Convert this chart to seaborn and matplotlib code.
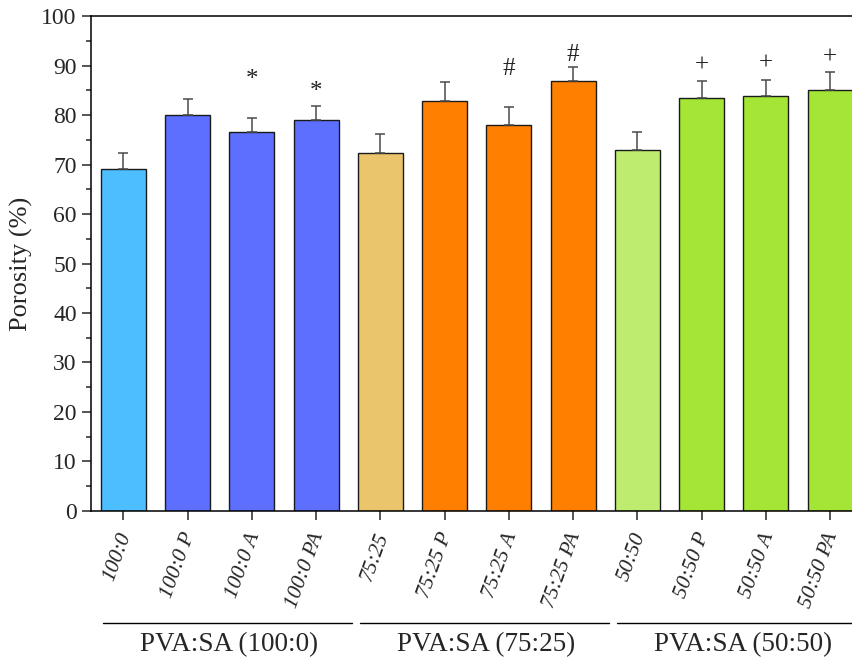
import numpy as np
import pandas as pd
import matplotlib
matplotlib.use("Agg")
import matplotlib.pyplot as plt
import matplotlib.transforms as mtransforms
from matplotlib.ticker import MultipleLocator
import seaborn as sns

# data
samples = ["100:0", "100:0 P", "100:0 A", "100:0 PA",
           "75:25", "75:25 P", "75:25 A", "75:25 PA",
           "50:50", "50:50 P", "50:50 A", "50:50 PA"]
porosity = [69.0, 80.0, 76.6, 79.0, 72.4, 82.8, 78.0, 86.9, 73.0, 83.5, 83.8, 85.1]
sd = [3.4, 3.3, 2.7, 2.9, 3.8, 3.8, 3.6, 2.7, 3.6, 3.3, 3.3, 3.5]
sig_marks = ["", "", "*", "*", "", "", "#", "#", "", "+", "+", "+"]
sig_y = [0, 0, 87.0, 84.6, 0, 0, 89.2, 92.1, 0, 90.0, 90.4, 91.6]
bar_colors = ["#4DBEFF", "#5D6FFF", "#5D6FFF", "#5D6FFF",
              "#EBC56C", "#FF8000", "#FF8000", "#FF8000",
              "#BEEC6F", "#A4E535", "#A4E535", "#A4E535"]
groups = ["PVA:SA (100:0)", "PVA:SA (75:25)", "PVA:SA (50:50)"]

df = pd.DataFrame({"sample": samples, "porosity": porosity, "sd": sd})

sns.set_style("ticks")
plt.rcParams["font.family"] = ["Liberation Serif", "DejaVu Serif"]
plt.rcParams["axes.linewidth"] = 1.1

fig = plt.figure(figsize=(8.53, 6.59), dpi=100)
ax = fig.add_axes([0.1063, 0.2246, 0.9054, 0.7511])

sns.barplot(data=df, x="sample", y="porosity", hue="sample", palette=bar_colors,
            legend=False, width=0.70, edgecolor="#1a1a1a", linewidth=1.0,
            saturation=1, ax=ax)

# upper error bars only
ax.errorbar(np.arange(len(samples)), df["porosity"],
            yerr=[np.zeros(len(sd)), df["sd"]], fmt="none",
            ecolor="#4a4a4a", elinewidth=1.1, capsize=3.3, capthick=1.1)

for i, (m, yy) in enumerate(zip(sig_marks, sig_y)):
    if m:
        ax.text(i, yy, m, ha="center", va="center", fontsize=18, color="#222222")

ax.set_xlim(-0.51, len(samples) - 0.49)
ax.set_ylim(0, 100)
ax.yaxis.set_major_locator(MultipleLocator(10))
ax.yaxis.set_minor_locator(MultipleLocator(5))
ax.tick_params(axis="y", which="major", length=6.5, width=1.1, labelsize=17, direction="out")
ax.tick_params(axis="y", which="minor", length=3.5, width=1.1, direction="out")
ax.tick_params(axis="x", length=6.5, width=1.1, direction="out")
ax.set_xlabel("")
ax.set_ylabel("Porosity (%)", fontsize=19, labelpad=6)
ax.set_xticks(range(len(samples)))
ax.set_xticklabels(samples, rotation=70, ha="right", va="center", rotation_mode="anchor",
                   fontsize=15.5, style="italic")
for lab in ax.get_xticklabels():
    lab.set_transform(lab.get_transform() + mtransforms.ScaledTranslation(0.03, -0.08, fig.dpi_scale_trans))

for s in ["top", "right", "left", "bottom"]:
    ax.spines[s].set_visible(True)
    ax.spines[s].set_color("black")

# group brackets under the axis
trans = mtransforms.blended_transform_factory(ax.transData, fig.transFigure)
for g, name in enumerate(groups):
    x0 = g * 4 - 0.32
    x1 = g * 4 + 3.56
    ax.plot([x0, x1], [0.055, 0.055], color="black", lw=1.0, transform=trans,
            clip_on=False)
    ax.text(g * 4 + 1.65, 0.022, name, transform=trans, ha="center", va="center",
            fontsize=19.5)

fig.savefig("out.png", dpi=100)
